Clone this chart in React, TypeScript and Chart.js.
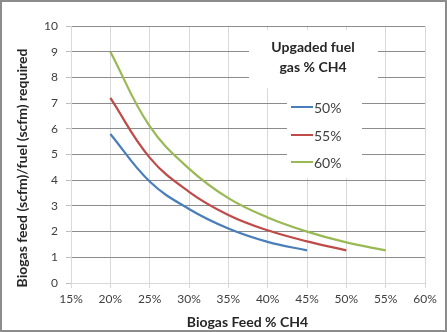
import React, { useEffect, useRef } from 'react';
import { Chart, registerables } from 'chart.js';

Chart.register(...registerables);

// ---- data ----
const feedPct = [20, 25, 30, 35, 40, 45, 50, 55];
const ratio50 = [5.8, 3.95, 2.88, 2.12, 1.6, 1.27];
const ratio55 = [7.2, 4.88, 3.55, 2.65, 2.05, 1.62, 1.27];
const ratio60 = [9.0, 6.1, 4.45, 3.3, 2.55, 2.0, 1.58, 1.27];
const seriesLabels = ['50%', '55%', '60%'];
const seriesColors = ['#4a7ebb', '#be4b48', '#98b954'];
const xMin = 15;
const xMax = 60;
const xStep = 5;
const yMin = 0;
const yMax = 10;
const yStep = 1;
const xTitle = 'Biogas Feed % CH4';
const yTitle = 'Biogas feed (scfm)/fuel (scfm) required';
const legendTitle = ['Upgaded fuel', 'gas % CH4'];

const FONT = 'Lato, "Open Sans", "DejaVu Sans", sans-serif';

const toPoints = (vals: number[]) => vals.map((y, i) => ({ x: feedPct[i], y }));

const decorPlugin = {
  id: 'decor',
  beforeDraw(chart: any) {
    const { ctx, width, height } = chart;
    ctx.save();
    ctx.fillStyle = '#ffffff';
    ctx.fillRect(0, 0, width, height);
    ctx.restore();
  },
  beforeDatasetsDraw(chart: any) {
    const { ctx } = chart;
    ctx.save();
    ctx.fillStyle = '#ffffff';
    // legend background boxes (hide gridlines behind legend)
    ctx.fillRect(249, 30, 129, 58);
    ctx.fillRect(287, 88, 75, 90);
    ctx.restore();
  },
  afterDraw(chart: any) {
    const { ctx, width, height } = chart;
    ctx.save();
    // legend title
    ctx.fillStyle = '#262626';
    ctx.font = `bold 14px ${FONT}`;
    ctx.textAlign = 'center';
    ctx.textBaseline = 'middle';
    ctx.fillText(legendTitle[0], 313, 47);
    ctx.fillText(legendTitle[1], 313, 67);
    // legend items
    const itemY = [107, 135, 162];
    ctx.font = `14px ${FONT}`;
    ctx.textAlign = 'left';
    chart.data.datasets.forEach((ds: any, i: number) => {
      ctx.strokeStyle = ds.borderColor;
      ctx.lineWidth = 2;
      ctx.beginPath();
      ctx.moveTo(291, itemY[i]);
      ctx.lineTo(313, itemY[i]);
      ctx.stroke();
      ctx.fillStyle = '#404040';
      ctx.fillText(ds.label, 314, itemY[i] + 1);
    });
    // axis titles
    ctx.fillStyle = '#262626';
    ctx.font = `bold 14px ${FONT}`;
    ctx.textAlign = 'center';
    ctx.textBaseline = 'middle';
    ctx.fillText(xTitle, 247.5, 322);
    ctx.save();
    ctx.translate(22, 168);
    ctx.rotate(-Math.PI / 2);
    ctx.fillText(yTitle, 0, 0);
    ctx.restore();
    // outer border
    ctx.strokeStyle = '#8c8c8c';
    ctx.lineWidth = 2;
    ctx.strokeRect(1, 1, width - 2, height - 2);
    ctx.restore();
  },
};

export default function App() {
  const canvasRef = useRef<HTMLCanvasElement | null>(null);

  useEffect(() => {
    if (!canvasRef.current) return;
    const series = [ratio50, ratio55, ratio60];
    const chart = new Chart(canvasRef.current, {
      type: 'line',
      data: {
        datasets: series.map((vals, i) => ({
          label: seriesLabels[i],
          data: toPoints(vals),
          borderColor: seriesColors[i],
          backgroundColor: seriesColors[i],
          borderWidth: 2.2,
          pointRadius: 0,
          fill: false,
          tension: 0.4,
        })),
      },
      options: {
        animation: false,
        responsive: false,
        devicePixelRatio: 1,
        layout: { padding: { left: 0, right: 22, top: 26, bottom: 0 } },
        plugins: {
          legend: { display: false },
          tooltip: { enabled: false },
        },
        scales: {
          x: {
            type: 'linear',
            min: xMin,
            max: xMax,
            ticks: {
              stepSize: xStep,
              callback: (v: any) => `${v}%`,
              color: '#404040',
              font: { family: FONT, size: 12 },
              padding: 4,
              maxRotation: 0,
            },
            grid: {
              color: '#d9d9d9',
              tickColor: '#d9d9d9',
              tickLength: 5,
              lineWidth: 1,
            },
            border: { color: '#d9d9d9' },
            afterFit: (scale: any) => {
              scale.height = 49;
            },
          },
          y: {
            type: 'linear',
            min: yMin,
            max: yMax,
            ticks: {
              stepSize: yStep,
              color: '#404040',
              font: { family: FONT, size: 12 },
              padding: 8,
            },
            grid: {
              color: (c: any) => (c.tick && c.tick.value === 0 ? '#d9d9d9' : '#8c8c8c'),
              tickColor: '#bfbfbf',
              tickLength: 5,
              lineWidth: 1,
            },
            border: { color: '#d9d9d9' },
            afterFit: (scale: any) => {
              scale.width = 71;
            },
          },
        },
      },
      plugins: [decorPlugin],
    });
    return () => chart.destroy();
  }, []);

  return (
    <div style={{ position: 'fixed', left: 0, top: 0, width: 447, height: 332 }}>
      <canvas ref={canvasRef} width={447} height={332} style={{ display: 'block' }} />
    </div>
  );
}
